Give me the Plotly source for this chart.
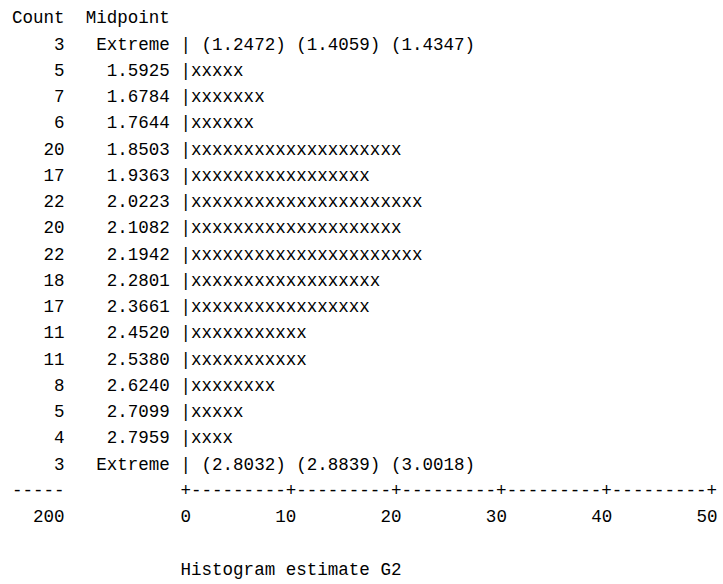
import plotly.graph_objects as go

# ---- data ----
counts = [3, 5, 7, 6, 20, 17, 22, 20, 22, 18, 17, 11, 11, 8, 5, 4, 3]
midpoints = ["Extreme", "1.5925", "1.6784", "1.7644", "1.8503", "1.9363", "2.0223",
             "2.1082", "2.1942", "2.2801", "2.3661", "2.4520", "2.5380", "2.6240",
             "2.7099", "2.7959", "Extreme"]
low_extremes = [1.2472, 1.4059, 1.4347]
high_extremes = [2.8032, 2.8839, 3.0018]
total = 200
ticks = [0, 10, 20, 30, 40, 50]
title = "Histogram estimate G2"

NB = "\u00a0"
FONT = dict(family="Liberation Mono, DejaVu Sans Mono, monospace", size=17.55, color="#000000")


def rjust(s, w):
    s = str(s)
    return NB * (w - len(s)) + s


# x axis in character cells, 0 = the '|' / '+' column (count zero); y axis in text lines
n = len(counts)
rows = list(range(1, n + 1))
bar_texts = []
for i, c in enumerate(counts):
    if i == 0:
        bar_texts.append("|" + NB + NB.join(f"({v:.4f})" for v in low_extremes))
    elif i == n - 1:
        bar_texts.append("|" + NB + NB.join(f"({v:.4f})" for v in high_extremes))
    else:
        bar_texts.append("|" + "x" * c)

axis_line_y = n + 1
tick_line_y = n + 2
title_y = n + 4
COUNT_X = -16   # first column of the Count field (5 wide)
MID_X = -9      # first column of the Midpoint field (8 wide)

fig = go.Figure()


def txt(xs, ys, texts):
    fig.add_trace(go.Scatter(x=xs, y=ys, mode="text", text=texts, textposition="middle right",
                             textfont=FONT, hoverinfo="skip", cliponaxis=False))


# header
txt([COUNT_X, MID_X], [0, 0], ["Count", "Midpoint"])
# counts and midpoints (right aligned in fixed-width fields)
txt([COUNT_X] * n, rows, [rjust(c, 5) for c in counts])
txt([MID_X] * n, rows, [rjust(m, 8) for m in midpoints])
# bars
txt([0] * n, rows, bar_texts)
# axis line
axis_str = "+" + "".join("-" * (ticks[k + 1] - ticks[k] - 1) + "+" for k in range(len(ticks) - 1))
txt([COUNT_X, 0], [axis_line_y, axis_line_y], ["-----", axis_str])
# total + tick labels (right aligned on the '+' columns)
txt([COUNT_X] + [t - len(str(t)) + 1 for t in ticks], [tick_line_y] * (len(ticks) + 1),
    [rjust(total, 5)] + [str(t) for t in ticks])
# title
txt([0], [title_y], [title])

CW = 10.53
X0 = 180.5
LH = 26.25
Y0 = 19.0
fig.update_layout(
    width=723, height=584,
    margin=dict(l=0, r=0, t=0, b=0),
    paper_bgcolor="white", plot_bgcolor="white",
    showlegend=False,
    xaxis=dict(range=[-X0 / CW, (723 - X0) / CW], visible=False, fixedrange=True),
    yaxis=dict(range=[(584 - Y0) / LH, -Y0 / LH], visible=False, fixedrange=True),
)

fig.write_html("out.html", config={"displayModeBar": False},
               post_script="document.body.style.margin='0';")
